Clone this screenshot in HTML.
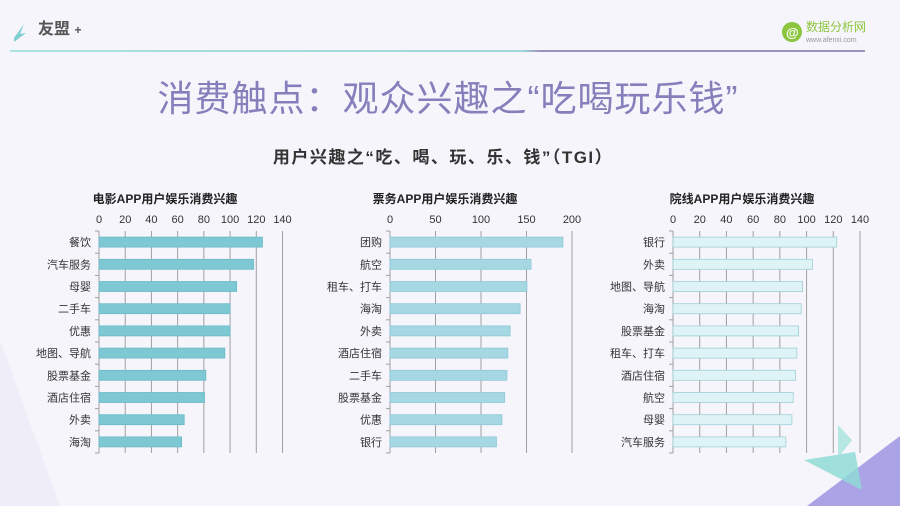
<!DOCTYPE html>
<html><head><meta charset="utf-8"><style>
html,body{margin:0;padding:0;width:900px;height:506px;overflow:hidden;background:#f6f5fb;}
svg{display:block;font-family:"Liberation Sans","Noto Sans CJK SC",sans-serif;}
</style></head><body>
<svg id="root" width="900" height="506" viewBox="0 0 900 506">
<defs>
<linearGradient id="hl" x1="0" x2="1"><stop offset="0" stop-color="#a9e2e0"/><stop offset="0.6" stop-color="#9fd6d8"/><stop offset="0.62" stop-color="#9a93bd"/><stop offset="1" stop-color="#9a93bd"/></linearGradient>
</defs>
<rect width="900" height="506" fill="#f6f5fb"/>
<polygon points="0,340 60,506 0,506" fill="#efedf7"/>
<polygon points="807,506 900,436 900,506" fill="#aaa4e6"/>
<polygon points="804,460 855,452 862,490" fill="#8fdbd6" opacity="0.85"/>
<polygon points="838,425 852,440 838,458" fill="#a8e3dc" opacity="0.8"/>
<g>
<polygon points="14,38 24,24 20,34 26,33 14,42" fill="#7fcfd0"/>
<text x="38" y="34" font-size="16" font-weight="bold" fill="#555">友盟 <tspan font-size="12">+</tspan></text>
</g>
<g>
<circle cx="792" cy="32" r="10" fill="#8cc63f"/>
<text x="786" y="37" font-size="13" fill="#fff" font-weight="bold">@</text>
<text x="806" y="31" font-size="12" fill="#8cc63f">数据分析网</text>
<text x="806" y="42" font-size="7" fill="#999">www.afenxi.com</text>
</g>
<rect x="10" y="50" width="855" height="2" fill="url(#hl)"/>
<text x="448" y="111" text-anchor="middle" font-size="36" letter-spacing="1" fill="#8580bb">消费触点：观众兴趣之“吃喝玩乐钱”</text>
<text x="443" y="163" text-anchor="middle" font-size="17" letter-spacing="1.5" font-weight="bold" fill="#333">用户兴趣之“吃、喝、玩、乐、钱”（TGI）</text>
<g id="charts"></g>
</svg>
<script>
const cats1 = ["餐饮","汽车服务","母婴","二手车","优惠","地图、导航","股票基金","酒店住宿","外卖","海淘"];
const vals1 = [124.7,118,105,100,100,96,81.5,80.5,65,63];
const ticks1 = [0,20,40,60,80,100,120,140];
const cats2 = ["团购","航空","租车、打车","海淘","外卖","酒店住宿","二手车","股票基金","优惠","银行"];
const vals2 = [190,155,150.5,143,132,129.5,128.5,126,123,117];
const ticks2 = [0,50,100,150,200];
const cats3 = ["银行","外卖","地图、导航","海淘","股票基金","租车、打车","酒店住宿","航空","母婴","汽车服务"];
const vals3 = [122.6,104.4,97,96,94,92.7,91.7,90,89,84.5];
const ticks3 = [0,20,40,60,80,100,120,140];
const titles = ["电影APP用户娱乐消费兴趣","票务APP用户娱乐消费兴趣","院线APP用户娱乐消费兴趣"];

const NS="http://www.w3.org/2000/svg";
const root=document.getElementById('charts');
function mk(tag,attrs,parent){const e=document.createElementNS(NS,tag);for(const k in attrs)e.setAttribute(k,attrs[k]);(parent||root).appendChild(e);return e;}

const specs=[
 {cats:cats1,vals:vals1,ticks:ticks1,x0:99,x1:282.5,fill:"#7ec8d4",stroke:"#6bbac8",title:titles[0],tx:165},
 {cats:cats2,vals:vals2,ticks:ticks2,x0:390,x1:572,fill:"#a6d8e4",stroke:"#8fc8d8",title:titles[1],tx:445},
 {cats:cats3,vals:vals3,ticks:ticks3,x0:673,x1:860,fill:"#def3f5",stroke:"#9fcfd6",title:titles[2],tx:742}
];
const yTop=231,yBot=453;
specs.forEach((s,ci)=>{
  const g=mk('g',{});
  
  
  const max=s.ticks[s.ticks.length-1];
  const xs=v=>s.x0+(s.x1-s.x0)*v/max;
  const band=(yBot-yTop)/s.cats.length;
  const yc=i=>yTop+band*(i+0.5);
  const t=mk('text',{x:s.tx,y:203,'text-anchor':'middle','font-size':12,'font-weight':'bold',fill:'#222'},g);
  t.textContent=s.title;
  
  
  s.ticks.forEach(v=>{
    const gl=mk('line',{x1:xs(v),x2:xs(v),y1:yTop,y2:yBot,stroke:'#a0a0a0','stroke-width':1},g);
    
    
    const tl=mk('text',{x:xs(v),y:223,'text-anchor':'middle','font-size':11,fill:'#333'},g);
    tl.textContent=v;
    
    
  });
  for(let i=0;i<=s.cats.length;i++){
    const tk=mk('line',{x1:s.x0-4,x2:s.x0,y1:yTop+band*i,y2:yTop+band*i,stroke:'#a0a0a0'},g);
    
    
  }
  s.cats.forEach((c,i)=>{
    const b=mk('rect',{x:s.x0,y:yc(i)-5,width:xs(s.vals[i])-s.x0,height:10,fill:s.fill,stroke:s.stroke,'stroke-width':0.8},g);
    
    
    const l=mk('text',{x:s.x0-8,y:yc(i)+4,'text-anchor':'end','font-size':11,fill:'#333'},g);
    l.textContent=c;
    
    
  });
});
</script>
</body></html>
